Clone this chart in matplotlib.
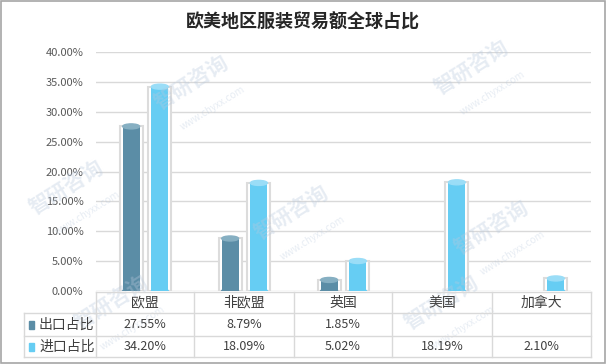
import matplotlib
matplotlib.use('Agg')
import matplotlib.pyplot as plt
from matplotlib.patches import Ellipse, Rectangle
from matplotlib.lines import Line2D

plt.rcParams['font.family'] = ['Noto Sans CJK SC', 'DejaVu Sans']

# Data
categories = ['欧盟', '非欧盟', '英国', '美国', '加拿大']
series_names = ['出口占比', '进口占比']
export_share = [27.55, 8.79, 1.85, None, None]
import_share = [34.20, 18.09, 5.02, 18.19, 2.10]
y_ticks = [0, 5, 10, 15, 20, 25, 30, 35, 40]

colors = ['#5B8DA6', '#66CDF3']
cap_colors = ['#86AFC2', '#9ADDF7']
tube_color = '#DCDCDC'
grid_color = '#D9D9D9'
text_color = '#404040'

W, H = 606, 364
fig = plt.figure(figsize=(W / 100, H / 100), dpi=100)
fig.patch.set_facecolor('white')


def fx(px):
    return px / W


def fy(py):
    return 1 - py / H


fig.patches.append(Rectangle((0.001, 0.002), 0.997, 0.995, transform=fig.transFigure,
                             fill=False, edgecolor='#A6A6A6', linewidth=1.2))

ax = fig.add_axes([fx(96), fy(291), fx(591) - fx(96), fy(52) - fy(291)])

# Watermarks
marks = [(150, 110), (430, 95), (25, 215), (250, 240), (450, 255), (70, 330), (400, 330)]
for mx, my in marks:
    fig.text(fx(mx), fy(my), '智研咨询', fontsize=15, color='#B9C9DD', alpha=0.35,
             rotation=32, fontweight='bold', zorder=0)
    fig.text(fx(mx + 28), fy(my + 20), 'www.chyxx.com', fontsize=7, color='#B9C9DD',
             alpha=0.35, rotation=32, zorder=0)

ymax = 40
cap_h = 5 / 239 * ymax
offsets = [-0.145, 0.145]
bar_w = 0.17
tube_w = 0.23

for s, vals in enumerate([export_share, import_share]):
    for i, v in enumerate(vals):
        if v is None:
            continue
        x = i + 0.5 + offsets[s]
        # glass tube
        ax.bar(x, v, width=tube_w, bottom=0, facecolor='white',
               edgecolor=tube_color, linewidth=1.5, zorder=2)
        ax.bar(x, v, width=bar_w, bottom=0, color=colors[s], zorder=3)
        ax.add_patch(Ellipse((x, 0), bar_w, cap_h, color=colors[s], zorder=3))
        ax.add_patch(Ellipse((x, v), bar_w, cap_h, color=cap_colors[s], zorder=4))

ax.set_xlim(0, len(categories))
ax.set_ylim(0, ymax)
ax.set_yticks(y_ticks)
ax.set_yticklabels(['%.2f%%' % t for t in y_ticks], fontsize=8, color='#595959')
ax.tick_params(axis='y', length=0, pad=9)
ax.set_xticks([])
ax.yaxis.grid(True, color=grid_color, linewidth=1)
ax.set_axisbelow(True)
for sp in ax.spines.values():
    sp.set_visible(False)
ax.set_facecolor('none')

fig.text(0.5, fy(22), '欧美地区服装贸易额全球占比', ha='center', va='center', fontsize=13,
         fontweight='bold', color='#262626')

# Data table drawn by hand
col_x = [96, 194, 294, 392, 492, 591]
row_y = [292, 313, 336, 357]
left_x = 24


def hline(y, x0, x1):
    fig.lines.append(Line2D([fx(x0), fx(x1)], [fy(y), fy(y)], transform=fig.transFigure,
                            color=grid_color, linewidth=1))


def vline(x, y0, y1):
    fig.lines.append(Line2D([fx(x), fx(x)], [fy(y0), fy(y1)], transform=fig.transFigure,
                            color=grid_color, linewidth=1))


hline(row_y[0], col_x[0], col_x[-1])
for y in row_y[1:]:
    hline(y, left_x, col_x[-1])
for x in col_x:
    vline(x, row_y[0], row_y[-1])
vline(left_x, row_y[1], row_y[-1])

for c, name in enumerate(categories):
    cx = (col_x[c] + col_x[c + 1]) / 2
    fig.text(fx(cx), fy((row_y[0] + row_y[1]) / 2), name, ha='center', va='center',
             fontsize=10, color=text_color)

for s, vals in enumerate([export_share, import_share]):
    cy = (row_y[s + 1] + row_y[s + 2]) / 2
    fig.patches.append(Rectangle((fx(29), fy(cy + 4)), fx(5), 8 / H,
                                 transform=fig.transFigure, color=colors[s]))
    fig.text(fx(39), fy(cy), series_names[s], ha='left', va='center', fontsize=10,
             color=text_color)
    for c, v in enumerate(vals):
        if v is None:
            continue
        cx = (col_x[c] + col_x[c + 1]) / 2
        fig.text(fx(cx), fy(cy), '%.2f%%' % v, ha='center', va='center', fontsize=9,
                 color=text_color)

fig.savefig('out.png', dpi=100)
